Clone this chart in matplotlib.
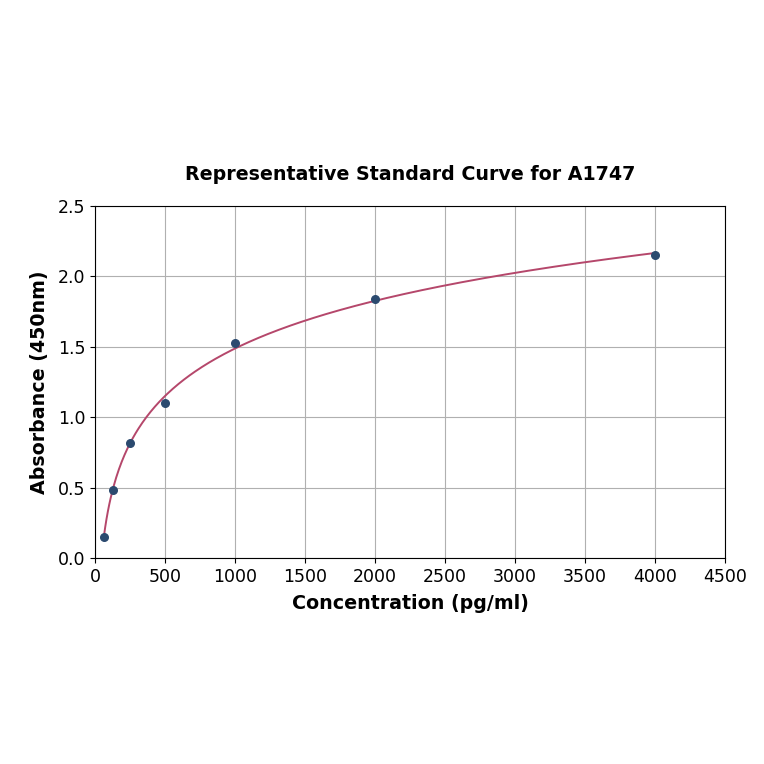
import numpy as np
import matplotlib
matplotlib.use('Agg')
import matplotlib.pyplot as plt

conc = [62.5, 125, 250, 500, 1000, 2000, 4000]
absorb = [0.15, 0.48, 0.82, 1.10, 1.53, 1.84, 2.15]

# smooth curve: quadratic fit in log(conc)
coef = np.polyfit(np.log(conc), absorb, 2)
xs = np.linspace(min(conc), max(conc), 400)
ys = np.polyval(coef, np.log(xs))

fig = plt.figure(figsize=(7.64, 7.64), dpi=100)
ax = fig.add_axes([95/764, 1-558/764, 630/764, 352/764])
ax.plot(xs, ys, color='#b5476b', lw=1.4, zorder=2)
ax.scatter(conc, absorb, color='#2b4a6f', s=30, zorder=3)
ax.set_xlim(0, 4500)
ax.set_ylim(0, 2.5)
ax.set_xticks(range(0, 4501, 500))
ax.set_yticks(np.arange(0, 2.51, 0.5))
ax.yaxis.set_major_formatter(matplotlib.ticker.FormatStrFormatter('%.1f'))
ax.grid(True, color='#b0b0b0', lw=0.8)
ax.set_axisbelow(True)
ax.tick_params(labelsize=12.5)
ax.set_title('Representative Standard Curve for A1747', fontsize=13.7, fontweight='bold', pad=19)
ax.set_xlabel('Concentration (pg/ml)', fontsize=13.7, fontweight='bold', labelpad=6)
ax.set_ylabel('Absorbance (450nm)', fontsize=13.7, fontweight='bold', labelpad=6)
fig.savefig('out.png', dpi=100)
